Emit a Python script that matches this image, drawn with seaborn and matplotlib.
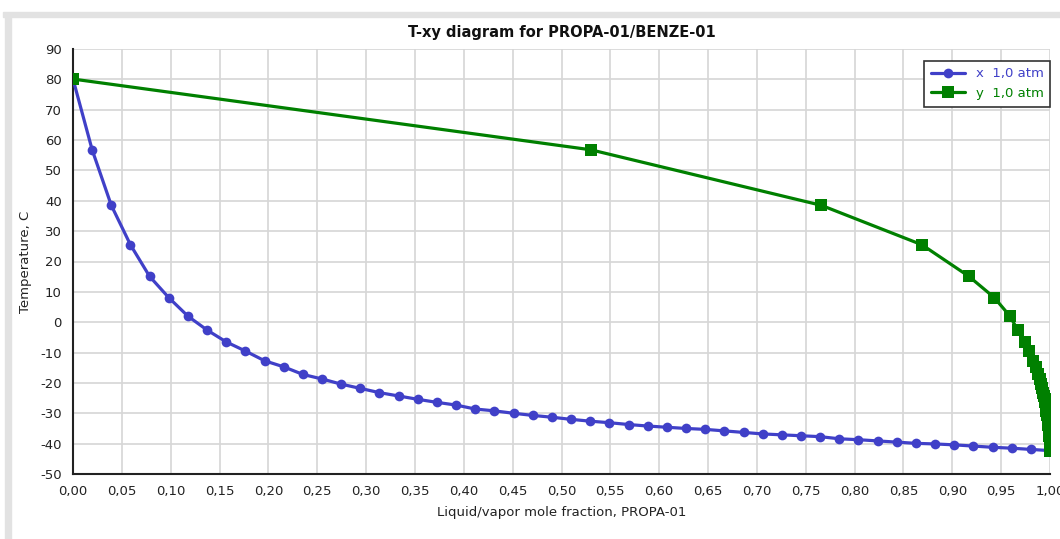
import numpy as np
import pandas as pd
import matplotlib
matplotlib.use("Agg")
import matplotlib.pyplot as plt
from matplotlib.ticker import FuncFormatter, MultipleLocator
from matplotlib.patches import Rectangle
import seaborn as sns

# liquid mole fraction of PROPA-01 (x) and bubble temperature, C
x_liquid = [0.000, 0.0196, 0.0392, 0.0588, 0.0784, 0.0980, 0.1176, 0.1373, 0.1569, 0.1765,
            0.1961, 0.2157, 0.2353, 0.2549, 0.2745, 0.2941, 0.3137, 0.3333, 0.3529, 0.3725,
            0.3922, 0.4118, 0.4314, 0.4510, 0.4706, 0.4902, 0.5098, 0.5294, 0.5490, 0.5686,
            0.5882, 0.6078, 0.6275, 0.6471, 0.6667, 0.6863, 0.7059, 0.7255, 0.7451, 0.7647,
            0.7843, 0.8039, 0.8235, 0.8431, 0.8627, 0.8824, 0.9020, 0.9216, 0.9412, 0.9608,
            0.9804, 1.000]
temperature = [80.1, 56.8, 38.5, 25.5, 15.1, 8.1, 2.0, -2.6, -6.5, -9.5,
               -12.7, -14.7, -17.2, -18.7, -20.4, -21.8, -23.2, -24.3, -25.4, -26.4,
               -27.3, -28.6, -29.2, -30.0, -30.7, -31.3, -32.0, -32.6, -33.1, -33.7,
               -34.2, -34.6, -35.0, -35.3, -35.8, -36.3, -36.8, -37.1, -37.4, -37.7,
               -38.4, -38.7, -39.1, -39.5, -39.9, -40.1, -40.4, -40.8, -41.2, -41.5,
               -41.9, -42.3]
# vapor mole fraction of PROPA-01 (y) at the same temperatures
y_vapor = [0.000, 0.530, 0.766, 0.869, 0.917, 0.943, 0.959, 0.967, 0.974, 0.979,
           0.983, 0.986, 0.988, 0.990, 0.991, 0.992, 0.993, 0.9938, 0.9945, 0.995,
           0.9955, 0.996, 0.9964, 0.9968, 0.9972, 0.9975, 0.9978, 0.998, 0.9982, 0.9984,
           0.9986, 0.9987, 0.9988, 0.9989, 0.999, 0.9991, 0.9992, 0.9993, 0.9994, 0.9995,
           0.9996, 0.9996, 0.9997, 0.9997, 0.9998, 0.9998, 0.9998, 0.9999, 0.9999, 0.9999,
           1.000, 1.000]

blue = '#4040c8'
green = '#008000'

sns.set_style('white')
plt.rcParams['font.family'] = ['DejaVu Sans']

fig = plt.figure(figsize=(10.6, 5.39), dpi=100)
# light gray frame of the original window
fig.patches.append(Rectangle((3/1060, 1-17/539), 1, 5/539, transform=fig.transFigure,
                             color='#e2e2e2', zorder=0))
fig.patches.append(Rectangle((5/1060, 0), 6/1060, 1-17/539, transform=fig.transFigure,
                             color='#e2e2e2', zorder=0))

ax = fig.add_axes([73/1060, 1-474/539, 977/1060, 425/539])

sns.lineplot(x=x_liquid, y=temperature, sort=False, estimator=None, ax=ax,
             color=blue, lw=2.3, marker='o', markersize=7, markeredgewidth=0,
             label='x  1,0 atm', zorder=3)
sns.lineplot(x=y_vapor, y=temperature, sort=False, estimator=None, ax=ax,
             color=green, lw=2.3, marker='s', markersize=8, markeredgewidth=0,
             label='y  1,0 atm', zorder=4)

ax.set_xlim(0, 1)
ax.set_ylim(-50, 90)
ax.xaxis.set_major_locator(MultipleLocator(0.05))
ax.yaxis.set_major_locator(MultipleLocator(10))
ax.xaxis.set_major_formatter(FuncFormatter(lambda v, p: f"{v:.2f}".replace('.', ',')))
ax.yaxis.set_major_formatter(FuncFormatter(lambda v, p: f"{v:.0f}"))
ax.grid(True, color='#d6d6d6', lw=1.2)
ax.set_axisbelow(True)
for s in ['top', 'right']:
    ax.spines[s].set_visible(False)
for s in ['left', 'bottom']:
    ax.spines[s].set_color('#222222')
    ax.spines[s].set_linewidth(1.5)
ax.tick_params(direction='in', length=6, width=1.3, color='#222222',
               labelsize=9.5, labelcolor='#222222', pad=8)

ax.set_title('T-xy diagram for PROPA-01/BENZE-01', fontsize=10.5, fontweight='bold',
             color='#111111', pad=9)
ax.set_xlabel('Liquid/vapor mole fraction, PROPA-01', fontsize=9.5, color='#222222', labelpad=6)
ax.set_ylabel('Temperature, C', fontsize=9.5, color='#222222', labelpad=6)

leg = ax.legend(loc='upper right', bbox_to_anchor=(1.0, 0.972), borderaxespad=0,
                fancybox=False, framealpha=1, edgecolor='#333333', fontsize=9.5,
                labelcolor='linecolor', handlelength=2.6, borderpad=0.5)
leg.get_frame().set_linewidth(1.2)

fig.savefig('out.png', dpi=100)
